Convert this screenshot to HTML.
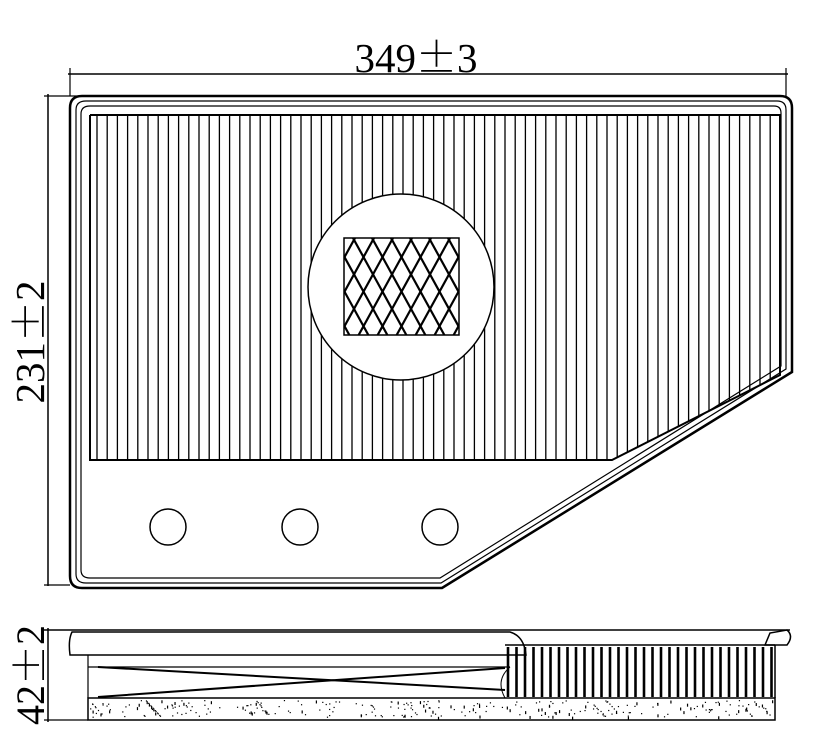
<!DOCTYPE html>
<html><head><meta charset="utf-8"><style>
html,body{margin:0;padding:0;background:#fff;}
svg{display:block;}
text{font-family:"Liberation Serif",serif;fill:#000;}
.pm{font-family:"Noto Serif CJK SC","Noto Sans CJK SC",serif;}
</style></head><body>
<svg id="s" width="836" height="755" viewBox="0 0 836 755" xmlns="http://www.w3.org/2000/svg" stroke="#000" fill="none">
<defs>
<clipPath id="pleat"><polygon points="90,115 780,115 780,375 612,460 90,460"/></clipPath>
<clipPath id="mesh"><rect x="344" y="238" width="115" height="97"/></clipPath>
<clipPath id="bpl"><rect x="505" y="645" width="270" height="53"/></clipPath>
</defs>
<!-- dimensions -->
<line x1="68" y1="74" x2="788" y2="74" stroke-width="1.5"/>
<line x1="70" y1="68" x2="70" y2="96" stroke-width="1.2"/>
<line x1="786" y1="68" x2="786" y2="96" stroke-width="1.2"/>
<text x="416" y="72" font-size="41" text-anchor="middle" stroke="none">349<tspan class="pm">±</tspan>3</text>
<line x1="48" y1="94" x2="48" y2="586" stroke-width="1.5"/>
<line x1="44" y1="96" x2="90" y2="96" stroke-width="1.2"/>
<line x1="44" y1="585" x2="70" y2="585" stroke-width="1.2"/>
<text transform="translate(44,342) rotate(-90)" font-size="41" text-anchor="middle" stroke="none">231<tspan class="pm">±</tspan>2</text>
<!-- outline -->
<path d="M82,96 L780,96 Q792,96 792,108 L792,372 L442,588 L82,588 Q70,588 70,576 L70,108 Q70,96 82,96 Z" stroke-width="2.5"/>
<path d="M86,101 L777,101 Q786,101 786,110 L786,369 L441,583 L86,583 Q76,583 76,574 L76,110 Q76,101 86,101 Z" stroke-width="1.2"/>
<path d="M90,106 L774,106 Q781,106 781,113 L781,366 L440,578 L90,578 Q81,578 81,570 L81,114 Q81,106 90,106 Z" stroke-width="1.2"/>
<g id="pl" clip-path="url(#pleat)" stroke-width="1.3"></g>
<polyline points="90,115 780,115 780,375 612,460 90,460 90,115" stroke-width="2"/>
<circle cx="401" cy="287" r="93" fill="#fff" stroke-width="1.5"/>
<rect x="344" y="238" width="115" height="97" fill="#fff" stroke-width="1.5"/>
<g id="ms" clip-path="url(#mesh)" stroke-width="2.2"></g>
<circle cx="168" cy="527" r="18" stroke-width="1.5"/>
<circle cx="300" cy="527" r="18" stroke-width="1.5"/>
<circle cx="440" cy="527" r="18" stroke-width="1.5"/>
<!-- side view -->
<text transform="translate(44,675) rotate(-90)" font-size="40" text-anchor="middle" stroke="none">42<tspan class="pm">±</tspan>2</text>
<line x1="48" y1="628" x2="48" y2="722" stroke-width="1.5"/>
<line x1="44" y1="630" x2="790" y2="630" stroke-width="1.5"/>
<line x1="44" y1="720" x2="88" y2="720" stroke-width="1.2"/>
<path d="M72,632 L510,632 Q524,636 526,655 L70,655 Q68,640 72,632 Z" stroke-width="1.5"/>
<path d="M88,655 L88,698 M88,667 L510,667" stroke-width="1.2"/>
<path d="M98,667 L505,690 M98,697 L505,668" stroke-width="2"/>
<path d="M510,667 Q495,680 505,698" stroke-width="1"/>
<g id="bp" clip-path="url(#bpl)" stroke-width="2.6"></g>
<line x1="505" y1="645" x2="775" y2="645" stroke-width="1.5"/>
<path d="M775,645 L775,698 M765,645 L770,633 L787,630 Q794,636 787,645 Z" stroke-width="1.5"/>
<rect x="88" y="698" width="687" height="22" stroke-width="1.5"/>
<g id="sd" fill="#000" stroke="none"></g>
</svg>
<script>
var ns="http://www.w3.org/2000/svg";
function L(g,x1,y1,x2,y2){var l=document.createElementNS(ns,"line");l.setAttribute("x1",x1);l.setAttribute("y1",y1);l.setAttribute("x2",x2);l.setAttribute("y2",y2);g.appendChild(l);}
var pl=document.getElementById("pl");
for(var x=97;x<780;x+=10.2)L(pl,x,115,x,460);
var ms=document.getElementById("ms");
for(var k=-200;k<300;k+=19){L(ms,344+k,238,344+k+97*0.55,335);L(ms,459-k,238,459-k-97*0.55,335);}
var bp=document.getElementById("bp");
for(var x=508;x<775;x+=8.5){L(bp,x,647,x,697);}
var sd=document.getElementById("sd");var seed=7;function r(){seed=(seed*9301+49297)%233280;return seed/233280;}
for(var i=0;i<300;i++){var c=document.createElementNS(ns,"rect");c.setAttribute("x",90+r()*683);c.setAttribute("y",700+r()*17);c.setAttribute("width",1.2);c.setAttribute("height",r()<0.2?3:1.2);sd.appendChild(c);}
</script>
</body></html>
